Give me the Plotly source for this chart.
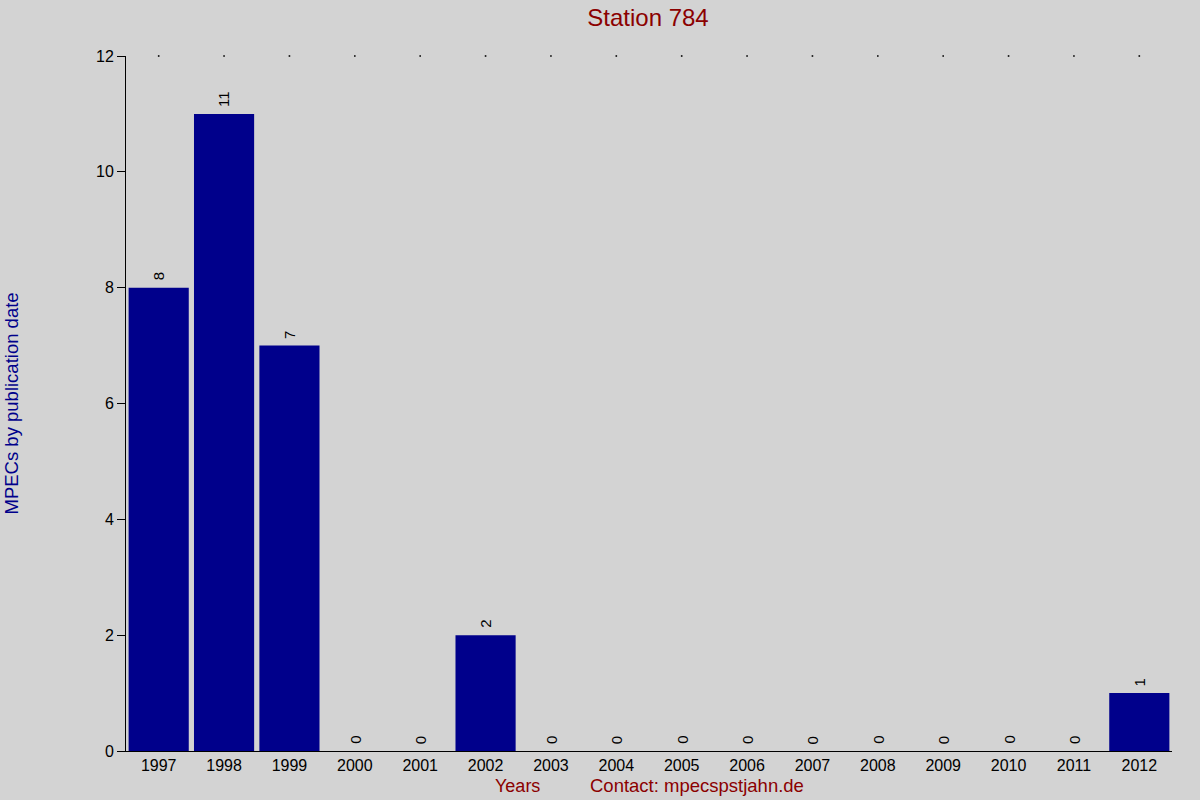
import plotly.graph_objects as go

years = ["1997", "1998", "1999", "2000", "2001", "2002", "2003", "2004",
         "2005", "2006", "2007", "2008", "2009", "2010", "2011", "2012"]
counts = [8, 11, 7, 0, 0, 2, 0, 0, 0, 0, 0, 0, 0, 0, 0, 1]
y_ticks = [0, 2, 4, 6, 8, 10, 12]
y_max = 12

FONT = "Liberation Sans, Arial, sans-serif"

fig = go.Figure()
fig.add_trace(go.Bar(
    x=years, y=counts,
    marker=dict(color="#00008b", line=dict(width=0)),
    width=0.92,
    hoverinfo="skip",
))
fig.add_trace(go.Scatter(
    x=years, y=[y_max] * len(years),
    mode="markers",
    marker=dict(color="black", size=1.6, symbol="square"),
    hoverinfo="skip",
    cliponaxis=False,
))

for i, c in enumerate(counts):
    fig.add_annotation(x=i, y=c, xref="x", yref="y", text=str(c), textangle=-90,
                       showarrow=False, xanchor="center", yanchor="bottom", yshift=5,
                       font=dict(family=FONT, size=15, color="black"))

fig.update_layout(
    width=1200, height=800,
    paper_bgcolor="#d3d3d3",
    plot_bgcolor="#d3d3d3",
    showlegend=False,
    margin=dict(l=126, r=28, t=56, b=49),
    font=dict(family=FONT, size=16, color="black"),
    title=dict(text="Station 784", x=0.54, xanchor="center", y=0.988, yanchor="top",
               font=dict(family=FONT, size=24, color="#8b0000")),
    bargap=0.08,
)
fig.update_xaxes(
    type="category",
    showline=True, linecolor="black", linewidth=1,
    ticks="", showgrid=False, zeroline=False,
    tickfont=dict(family=FONT, size=16, color="black"),
    range=[-0.5, len(years) - 0.5],
)
fig.update_yaxes(
    range=[0, y_max],
    tickvals=y_ticks,
    showline=True, linecolor="black", linewidth=1,
    ticks="outside", ticklen=8, tickcolor="black",
    showgrid=False, zeroline=False,
    tickfont=dict(family=FONT, size=16, color="black"),
)

fig.add_annotation(text="Years", xref="paper", yref="paper", x=(517 - 126) / 1046, y=-35 / 695,
                   xanchor="center", yanchor="middle", showarrow=False,
                   font=dict(family=FONT, size=18, color="#8b0000"))
fig.add_annotation(text="Contact: mpecspstjahn.de", xref="paper", yref="paper",
                   x=(697 - 126) / 1046, y=-35 / 695,
                   xanchor="center", yanchor="middle", showarrow=False,
                   font=dict(family=FONT, size=18.5, color="#8b0000"))
fig.add_annotation(text="MPECs by publication date", xref="paper", yref="paper",
                   x=(11 - 126) / 1046, y=0.5, textangle=-90,
                   xanchor="center", yanchor="middle", showarrow=False,
                   font=dict(family=FONT, size=18.5, color="#00008b"))

fig.write_html("out.html",
               config={"displayModeBar": False},
               post_script="document.body.style.margin='0';document.body.style.padding='0';"
                           "document.body.style.background='#d3d3d3';")
